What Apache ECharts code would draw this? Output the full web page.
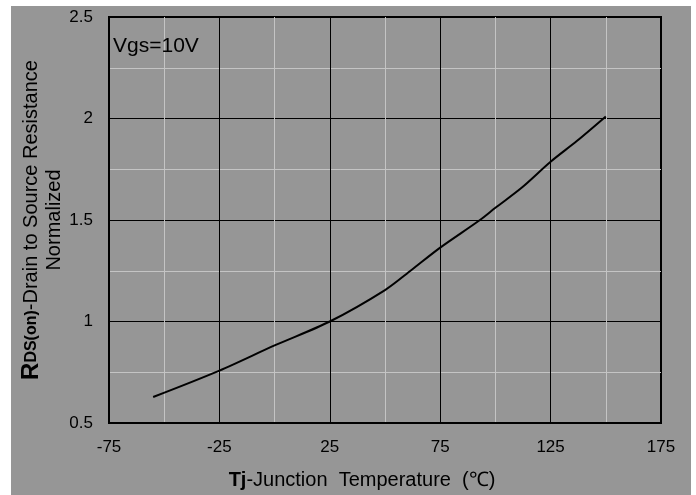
<!DOCTYPE html>
<html>
<head>
<meta charset="utf-8">
<script src="https://cdn.jsdelivr.net/npm/echarts@6/dist/echarts.min.js"></script>
<style>
  html, body { margin: 0; padding: 0; background: #ffffff; }
  #chart { width: 696px; height: 495px; }
</style>
</head>
<body>
<div id="chart"></div>
<script>
// Junction temperature (°C) and normalized on-resistance
const tempC = [-55, -25, 0, 25, 50, 62, 75, 93, 100, 112, 125, 137, 150];
const rdsNorm = [0.628, 0.758, 0.882, 1.0, 1.155, 1.254, 1.364, 1.5, 1.56, 1.66, 1.787, 1.89, 2.01];

// Labelled tick values on each axis
const xTickLabels = [-75, -25, 25, 75, 125, 175];
const yTickLabels = [0.5, 1, 1.5, 2, 2.5];

const BG = '#969696';
const FONT = '"Liberation Sans", Arial, sans-serif';

const chart = echarts.init(document.getElementById('chart'), null, { renderer: 'canvas' });

const points = tempC.map((t, i) => [t, rdsNorm[i]]);

chart.setOption({
  backgroundColor: '#ffffff',
  animation: false,
  textStyle: { fontFamily: FONT },
  graphic: [
    {
      type: 'rect', z: -10, silent: true,
      shape: { x: 11, y: 6, width: 680, height: 489 },
      style: { fill: BG }
    },
    {
      type: 'text', left: 113, top: 36, z: 10,
      style: { text: 'Vgs=10V', font: '21px ' + FONT, fill: '#000' }
    }
  ],
  grid: {
    left: 109, top: 17, right: 35, bottom: 72,
    show: true, backgroundColor: BG,
    borderColor: '#000', borderWidth: 2
  },
  xAxis: {
    type: 'value', min: -75, max: 175, interval: 25,
    axisLine: { show: true, onZero: false, lineStyle: { color: '#000', width: 2 } },
    axisTick: { show: false },
    axisLabel: {
      color: '#000', fontSize: 17, margin: 16, fontFamily: FONT,
      formatter: v => xTickLabels.includes(v) ? String(v) : ''
    },
    splitLine: { show: true, lineStyle: { color: ['#000000', '#c4c4c4'], width: 1 } },
    name: '{b|Tj}-Junction  Temperature  (℃)',
    nameLocation: 'middle', nameGap: 47, nameMoveOverlap: false,
    nameTextStyle: {
      color: '#000', fontSize: 20, fontFamily: FONT, padding: [0, 46, 0, 0],
      rich: { b: { fontWeight: 'bold', fontSize: 20, color: '#000', fontFamily: FONT } }
    }
  },
  yAxis: {
    type: 'value', min: 0.5, max: 2.5, interval: 0.25,
    axisLine: { show: true, onZero: false, lineStyle: { color: '#000', width: 2 } },
    axisTick: { show: false },
    axisLabel: {
      color: '#000', fontSize: 17, margin: 16, fontFamily: FONT,
      formatter: v => yTickLabels.some(t => Math.abs(t - v) < 1e-9) ? String(v) : ''
    },
    splitLine: { show: true, lineStyle: { color: ['#000000', '#c4c4c4'], width: 1 } },
    name: '{R|R}{s|DS(on)}{n|-Drain to Source Resistance}\n{n|Normalized}',
    nameLocation: 'middle', nameRotate: 90, nameGap: 43, nameMoveOverlap: false,
    nameTextStyle: {
      color: '#000', fontFamily: FONT, align: 'center',
      rich: {
        R: { fontWeight: 'bold', fontSize: 24, color: '#000', fontFamily: FONT, lineHeight: 23 },
        s: { fontWeight: 'bold', fontSize: 16, color: '#000', fontFamily: FONT, lineHeight: 23 },
        n: { fontSize: 20, color: '#000', fontFamily: FONT, lineHeight: 23 }
      }
    }
  },
  series: [{
    type: 'line',
    data: points,
    showSymbol: false,
    smooth: 0.3,
    lineStyle: { color: '#000', width: 2 },
    z: 5
  }]
});
</script>
</body>
</html>
